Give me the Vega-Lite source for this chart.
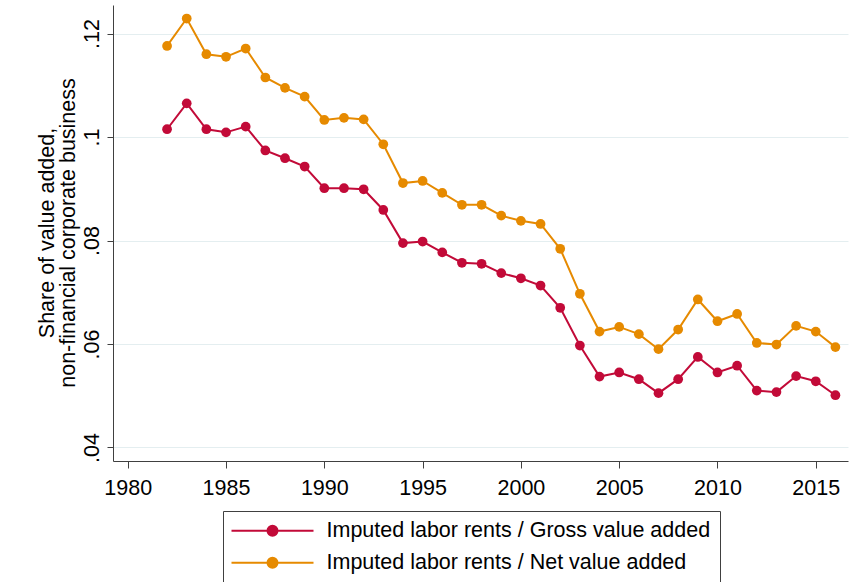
{
  "$schema": "https://vega.github.io/schema/vega-lite/v6.json",
  "width": 735,
  "height": 456,
  "autosize": {"type": "none"},
  "padding": {"left": 113, "top": 5, "right": 6, "bottom": 121},
  "background": "white",
  "config": {
    "font": "Liberation Sans",
    "view": {"stroke": null},
    "axis": {"labelFont": "Liberation Sans", "titleFont": "Liberation Sans"},
    "legend": {"labelFont": "Liberation Sans"}
  },
  "datasets": {
    "rents": [
      {"year": 1982, "series": "Imputed labor rents / Gross value added", "value": 0.1015},
      {"year": 1983, "series": "Imputed labor rents / Gross value added", "value": 0.1065},
      {"year": 1984, "series": "Imputed labor rents / Gross value added", "value": 0.1015},
      {"year": 1985, "series": "Imputed labor rents / Gross value added", "value": 0.1009},
      {"year": 1986, "series": "Imputed labor rents / Gross value added", "value": 0.1020},
      {"year": 1987, "series": "Imputed labor rents / Gross value added", "value": 0.0974},
      {"year": 1988, "series": "Imputed labor rents / Gross value added", "value": 0.0959},
      {"year": 1989, "series": "Imputed labor rents / Gross value added", "value": 0.0943},
      {"year": 1990, "series": "Imputed labor rents / Gross value added", "value": 0.0901},
      {"year": 1991, "series": "Imputed labor rents / Gross value added", "value": 0.0901},
      {"year": 1992, "series": "Imputed labor rents / Gross value added", "value": 0.0899},
      {"year": 1993, "series": "Imputed labor rents / Gross value added", "value": 0.0859},
      {"year": 1994, "series": "Imputed labor rents / Gross value added", "value": 0.0795},
      {"year": 1995, "series": "Imputed labor rents / Gross value added", "value": 0.0798},
      {"year": 1996, "series": "Imputed labor rents / Gross value added", "value": 0.0777},
      {"year": 1997, "series": "Imputed labor rents / Gross value added", "value": 0.0757},
      {"year": 1998, "series": "Imputed labor rents / Gross value added", "value": 0.0755},
      {"year": 1999, "series": "Imputed labor rents / Gross value added", "value": 0.0737},
      {"year": 2000, "series": "Imputed labor rents / Gross value added", "value": 0.0727},
      {"year": 2001, "series": "Imputed labor rents / Gross value added", "value": 0.0713},
      {"year": 2002, "series": "Imputed labor rents / Gross value added", "value": 0.0670},
      {"year": 2003, "series": "Imputed labor rents / Gross value added", "value": 0.0597},
      {"year": 2004, "series": "Imputed labor rents / Gross value added", "value": 0.0537},
      {"year": 2005, "series": "Imputed labor rents / Gross value added", "value": 0.0545},
      {"year": 2006, "series": "Imputed labor rents / Gross value added", "value": 0.0532},
      {"year": 2007, "series": "Imputed labor rents / Gross value added", "value": 0.0505},
      {"year": 2008, "series": "Imputed labor rents / Gross value added", "value": 0.0532},
      {"year": 2009, "series": "Imputed labor rents / Gross value added", "value": 0.0575},
      {"year": 2010, "series": "Imputed labor rents / Gross value added", "value": 0.0545},
      {"year": 2011, "series": "Imputed labor rents / Gross value added", "value": 0.0558},
      {"year": 2012, "series": "Imputed labor rents / Gross value added", "value": 0.0510},
      {"year": 2013, "series": "Imputed labor rents / Gross value added", "value": 0.0507},
      {"year": 2014, "series": "Imputed labor rents / Gross value added", "value": 0.0538},
      {"year": 2015, "series": "Imputed labor rents / Gross value added", "value": 0.0528},
      {"year": 2016, "series": "Imputed labor rents / Gross value added", "value": 0.0501},
      {"year": 1982, "series": "Imputed labor rents / Net value added", "value": 0.1176},
      {"year": 1983, "series": "Imputed labor rents / Net value added", "value": 0.1229},
      {"year": 1984, "series": "Imputed labor rents / Net value added", "value": 0.1160},
      {"year": 1985, "series": "Imputed labor rents / Net value added", "value": 0.1155},
      {"year": 1986, "series": "Imputed labor rents / Net value added", "value": 0.1171},
      {"year": 1987, "series": "Imputed labor rents / Net value added", "value": 0.1115},
      {"year": 1988, "series": "Imputed labor rents / Net value added", "value": 0.1095},
      {"year": 1989, "series": "Imputed labor rents / Net value added", "value": 0.1078},
      {"year": 1990, "series": "Imputed labor rents / Net value added", "value": 0.1033},
      {"year": 1991, "series": "Imputed labor rents / Net value added", "value": 0.1037},
      {"year": 1992, "series": "Imputed labor rents / Net value added", "value": 0.1034},
      {"year": 1993, "series": "Imputed labor rents / Net value added", "value": 0.0986},
      {"year": 1994, "series": "Imputed labor rents / Net value added", "value": 0.0911},
      {"year": 1995, "series": "Imputed labor rents / Net value added", "value": 0.0915},
      {"year": 1996, "series": "Imputed labor rents / Net value added", "value": 0.0892},
      {"year": 1997, "series": "Imputed labor rents / Net value added", "value": 0.0869},
      {"year": 1998, "series": "Imputed labor rents / Net value added", "value": 0.0869},
      {"year": 1999, "series": "Imputed labor rents / Net value added", "value": 0.0848},
      {"year": 2000, "series": "Imputed labor rents / Net value added", "value": 0.0838},
      {"year": 2001, "series": "Imputed labor rents / Net value added", "value": 0.0832},
      {"year": 2002, "series": "Imputed labor rents / Net value added", "value": 0.0784},
      {"year": 2003, "series": "Imputed labor rents / Net value added", "value": 0.0697},
      {"year": 2004, "series": "Imputed labor rents / Net value added", "value": 0.0624},
      {"year": 2005, "series": "Imputed labor rents / Net value added", "value": 0.0633},
      {"year": 2006, "series": "Imputed labor rents / Net value added", "value": 0.0619},
      {"year": 2007, "series": "Imputed labor rents / Net value added", "value": 0.0590},
      {"year": 2008, "series": "Imputed labor rents / Net value added", "value": 0.0628},
      {"year": 2009, "series": "Imputed labor rents / Net value added", "value": 0.0686},
      {"year": 2010, "series": "Imputed labor rents / Net value added", "value": 0.0644},
      {"year": 2011, "series": "Imputed labor rents / Net value added", "value": 0.0658},
      {"year": 2012, "series": "Imputed labor rents / Net value added", "value": 0.0602},
      {"year": 2013, "series": "Imputed labor rents / Net value added", "value": 0.0599},
      {"year": 2014, "series": "Imputed labor rents / Net value added", "value": 0.0635},
      {"year": 2015, "series": "Imputed labor rents / Net value added", "value": 0.0624},
      {"year": 2016, "series": "Imputed labor rents / Net value added", "value": 0.0594}
    ]
  },
  "data": {"name": "rents"},
  "encoding": {
    "x": {
      "field": "year",
      "type": "quantitative",
      "scale": {"domain": [1979.25, 2016.64], "nice": false, "zero": false},
      "axis": {
        "title": null,
        "values": [1980, 1985, 1990, 1995, 2000, 2005, 2010, 2015],
        "format": "d",
        "grid": false,
        "domainColor": "#404040",
        "domainWidth": 1,
        "tickColor": "#404040",
        "tickWidth": 1,
        "tickSize": 7,
        "labelFontSize": 21.5,
        "labelColor": "#000000",
        "labelPadding": 9,
        "labelFlush": false,
        "labelOverlap": false,
        "labelBound": false
      }
    },
    "y": {
      "field": "value",
      "type": "quantitative",
      "scale": {"domain": [0.03739, 0.12551], "nice": false, "zero": false},
      "axis": {
        "title": ["Share of value added,", "non-financial corporate business"],
        "titleFontSize": 21.5,
        "titleFontWeight": "normal",
        "titleColor": "#000000",
        "titleLineHeight": 21,
        "titleAngle": 270,
        "titleAlign": "center",
        "titleBaseline": "alphabetic",
        "titleX": -60,
        "titleY": 227.5,
        "values": [0.04, 0.06, 0.08, 0.1, 0.12],
        "labelExpr": "substring(format(datum.value, '.2~f'), 1)",
        "labelAngle": 270,
        "labelAlign": "center",
        "labelBaseline": "alphabetic",
        "labelFontSize": 21.5,
        "labelColor": "#000000",
        "labelPadding": 9,
        "labelFlush": false,
        "labelOverlap": false,
        "labelBound": false,
        "grid": true,
        "gridColor": "#e4eef0",
        "gridWidth": 1,
        "domainColor": "#404040",
        "domainWidth": 1,
        "tickColor": "#404040",
        "tickWidth": 1,
        "tickSize": 6
      }
    },
    "color": {
      "field": "series",
      "type": "nominal",
      "scale": {
        "domain": ["Imputed labor rents / Gross value added", "Imputed labor rents / Net value added"],
        "range": ["#c20a38", "#e68a00"]
      },
      "legend": {
        "orient": "none",
        "legendX": 110,
        "legendY": 506,
        "title": null,
        "direction": "vertical",
        "strokeColor": "#404040",
        "fillColor": "white",
        "padding": 9,
        "rowPadding": 9,
        "labelFontSize": 21.5,
        "labelColor": "#000000",
        "labelLimit": 0,
        "labelExpr": "datum.label + '\u00a0\u00a0\u00a0\u00a0'",
        "symbolType": "M-8.2,0L8.2,0M1,0A1,1,0,1,1,-1,0A1,1,0,1,1,1,0Z",
        "symbolSize": 100,
        "symbolStrokeWidth": 2,
        "symbolOpacity": 1,
        "labelOffset": 73,
        "encode": {
          "symbols": {
            "update": {
              "x": {"value": 40.5},
              "fill": {"field": "value", "scale": "color"},
              "stroke": {"field": "value", "scale": "color"},
              "strokeWidth": {"value": 2},
              "opacity": {"value": 1}
            }
          }
        }
      }
    }
  },
  "layer": [
    {"mark": {"type": "line", "strokeWidth": 2}},
    {"mark": {"type": "point", "filled": true, "shape": "circle", "size": 95, "opacity": 1}}
  ]
}
